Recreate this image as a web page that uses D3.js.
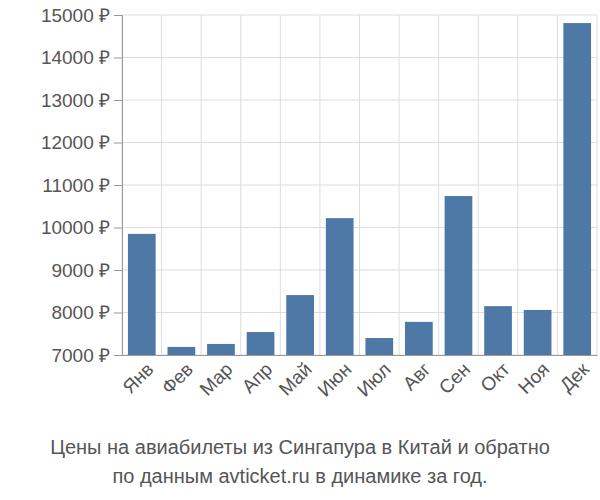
<!DOCTYPE html>
<html><head><meta charset="utf-8">
<script src="https://cdn.jsdelivr.net/npm/d3@7"></script>
<style>body{margin:0;background:#fff}text{font-family:"Liberation Sans",Arial,sans-serif}</style>
</head><body>
<svg id="c" width="600" height="500"></svg>
<script>
// data
const months = ["Янв","Фев","Мар","Апр","Май","Июн","Июл","Авг","Сен","Окт","Ноя","Дек"];
const prices = [9850,7190,7260,7540,8410,10220,7400,7780,10740,8150,8060,14810];
const yTicks = [7000,8000,9000,10000,11000,12000,13000,14000,15000];
const titleLines = ["Цены на авиабилеты из Сингапура в Китай и обратно","по данным avticket.ru в динамике за год."];

const svg = d3.select("#c");
const m = {left:122, right:597, top:15, bottom:355};

const x = d3.scaleBand().domain(months).range([m.left, m.right]).paddingInner(0.3).paddingOuter(0.15);
const y = d3.scaleLinear().domain([7000,15000]).range([m.bottom, m.top]);

// grid
svg.append("g").selectAll("line").data(yTicks).enter().append("line")
  .attr("x1", m.left).attr("x2", m.right)
  .attr("y1", d => y(d)).attr("y2", d => y(d))
  .attr("stroke", "#ddd");
const step = x.step();
svg.append("g").selectAll("line").data(d3.range(months.length + 1)).enter().append("line")
  .attr("x1", i => m.left + i * step * (m.right - m.left) / (step * months.length))
  .attr("x2", i => m.left + i * (m.right - m.left) / months.length)
  .attr("y1", m.top).attr("y2", m.bottom)
  .attr("stroke", "#ddd");

// bars
svg.append("g").selectAll("rect").data(prices).enter().append("rect")
  .attr("x", (d, i) => x(months[i]))
  .attr("width", x.bandwidth())
  .attr("y", d => y(d))
  .attr("height", d => y(7000) - y(d))
  .attr("fill", "#4e79a7");

// y axis
const ya = svg.append("g").attr("transform", `translate(${m.left},0)`)
  .call(d3.axisLeft(y).tickValues(yTicks).tickSize(8).tickFormat(d => d + " ₽"));
ya.select(".domain").attr("stroke", "#999");
ya.selectAll(".tick line").attr("stroke", "#999");
ya.selectAll("text").attr("font-size", 19).attr("fill", "#555").attr("dx", -1);

// x axis
const xa = svg.append("g").attr("transform", `translate(0,${m.bottom})`)
  .call(d3.axisBottom(x).tickSize(0));
xa.select(".domain").attr("stroke", "#999");
xa.selectAll("text").attr("font-size", 19).attr("fill", "#555")
  .attr("text-anchor", "end").attr("transform", "rotate(-45)")
  .attr("dx", "-0.1em").attr("dy", "0.9em");

// title
svg.append("g").selectAll("text").data(titleLines).enter().append("text")
  .attr("x", 300).attr("y", (d, i) => 454 + i * 29)
  .attr("text-anchor", "middle").attr("font-size", 20).attr("fill", "#555")
  .text(d => d);
</script>
</body></html>
